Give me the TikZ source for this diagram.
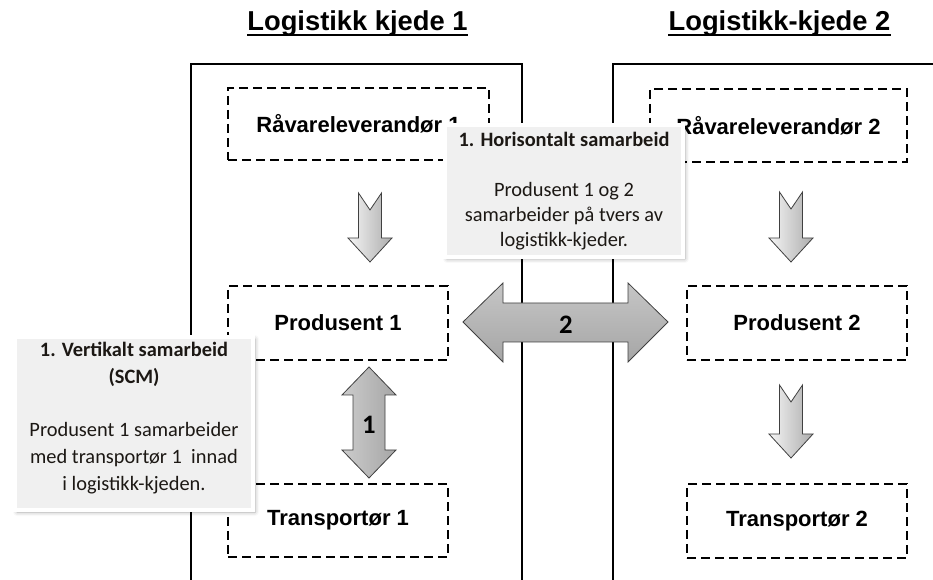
\documentclass[tikz,border=0pt]{standalone}
\usepackage{fontspec}
\setmainfont{Liberation Sans}
\newfontfamily\calfont{Carlito}
\usetikzlibrary{shadows.blur}
\definecolor{cgray}{RGB}{240,240,240}
\definecolor{ctext}{RGB}{28,24,20}
\newcommand\blkdown[3]{%
  \path[blk, left color=gray!8, right color=gray!65]
    ({#1-11.5},#2) -- (#1,{#2+17}) -- ({#1+11.5},#2) -- ({#1+11.5},{#3-24})
    -- ({#1+22},{#3-24}) -- (#1,#3) -- ({#1-22},{#3-24}) -- ({#1-11.5},{#3-24}) -- cycle;}
\begin{document}
\begin{tikzpicture}[x=0.75pt,y=-0.75pt,
  bigbox/.style={draw=black, line width=1.9pt},
  dbox/.style={draw=black, line width=1.5pt, dash pattern=on 6.5pt off 4pt, rectangle, inner sep=0pt, font=\fontsize{16.5}{18}\selectfont\bfseries},
  ttl/.style={font=\fontsize{20.5}{22}\selectfont\bfseries, inner sep=0pt, anchor=base},
  blk/.style={draw=black!75, line width=0.6pt},
  callout/.style={rectangle, fill=cgray, draw=white, line width=3.5pt, inner sep=0pt,
    blur shadow={shadow xshift=1.5pt, shadow yshift=-1.5pt, shadow blur radius=3pt, shadow opacity=35}},
  ctxt/.style={align=center, text=ctext, inner sep=0pt},
  alabel/.style={font=\calfont\fontsize{20}{22}\selectfont\bfseries, text=black, inner sep=0pt},
]
\useasboundingbox (0,0) rectangle (933,580);
\clip (0,0) rectangle (933,580);

% titles
\node[ttl] (t1) at (357.5,31) {Logistikk kjede 1};
\node[ttl] (t2) at (779.5,31) {Logistikk-kjede 2};
\draw[line width=1.6pt] ([yshift=-3pt]t1.base west) -- ([yshift=-3pt]t1.base east);
\draw[line width=1.6pt] ([yshift=-3pt]t2.base west) -- ([yshift=-3pt]t2.base east);

% big boxes
\draw[bigbox] (191,600) -- (191,64) -- (522,64) -- (522,600);
\draw[bigbox] (613,600) -- (613,64) -- (950,64);

% dashed boxes
\node[dbox, minimum width=195.75pt, minimum height=54pt] (r1) at (358.5,124) {Råvareleverandør 1};
\node[dbox, minimum width=165pt, minimum height=55.5pt] (p1) at (338,323) {Produsent 1};
\node[dbox, minimum width=165pt, minimum height=54.75pt] (tr1) at (338,520.5) {Transportør 1};
\node[dbox, minimum width=192.75pt, minimum height=54.75pt] (r2) at (778.5,125.5) {Råvareleverandør 2};
\node[dbox, minimum width=165pt, minimum height=55.5pt] (p2) at (797,323) {Produsent 2};
\node[dbox, minimum width=165pt, minimum height=55.5pt] (tr2) at (797,521) {Transportør 2};

% block arrows
\blkdown{370}{193}{262}
\blkdown{791}{192}{262}
\blkdown{791}{385}{458}

\path[blk, left color=gray!40, middle color=gray!5, right color=gray!70]
  (369,367) -- (396,395) -- (385,395) -- (385,450) -- (396,450) -- (369,478)
  -- (342,450) -- (353,450) -- (353,395) -- (342,395) -- cycle;
\path[blk, top color=gray!45, middle color=gray!5, bottom color=gray!70]
  (463,322) -- (503,283) -- (503,303) -- (628,303) -- (628,283) -- (668,322)
  -- (628,362) -- (628,342) -- (503,342) -- (503,362) -- cycle;
\node[alabel] (l1) at (369,425) {1};
\node[alabel] (l2) at (566,325) {2};

% callouts
\node[callout, minimum width=178.5pt, minimum height=99pt] (hc) at (564,191) {};
\node[ctxt, font=\calfont\fontsize{15.3}{18.75}\selectfont] (hct) at (564,191)
  {\textbf{1. Horisontalt samarbeid}\\[18.75pt]Produsent 1 og 2\\samarbeider på tvers av\\logistikk-kjeder.};

\node[callout, minimum width=178.5pt, minimum height=129.75pt] (vc) at (134,423.5) {};
\node[ctxt, font=\calfont\fontsize{15.3}{20}\selectfont] (vct) at (134,418)
  {\textbf{1. Vertikalt samarbeid}\\\textbf{(SCM)}\\[20pt]Produsent 1 samarbeider\\med transportør 1\ \ innad\\i logistikk-kjeden.};
\end{tikzpicture}
\end{document}
